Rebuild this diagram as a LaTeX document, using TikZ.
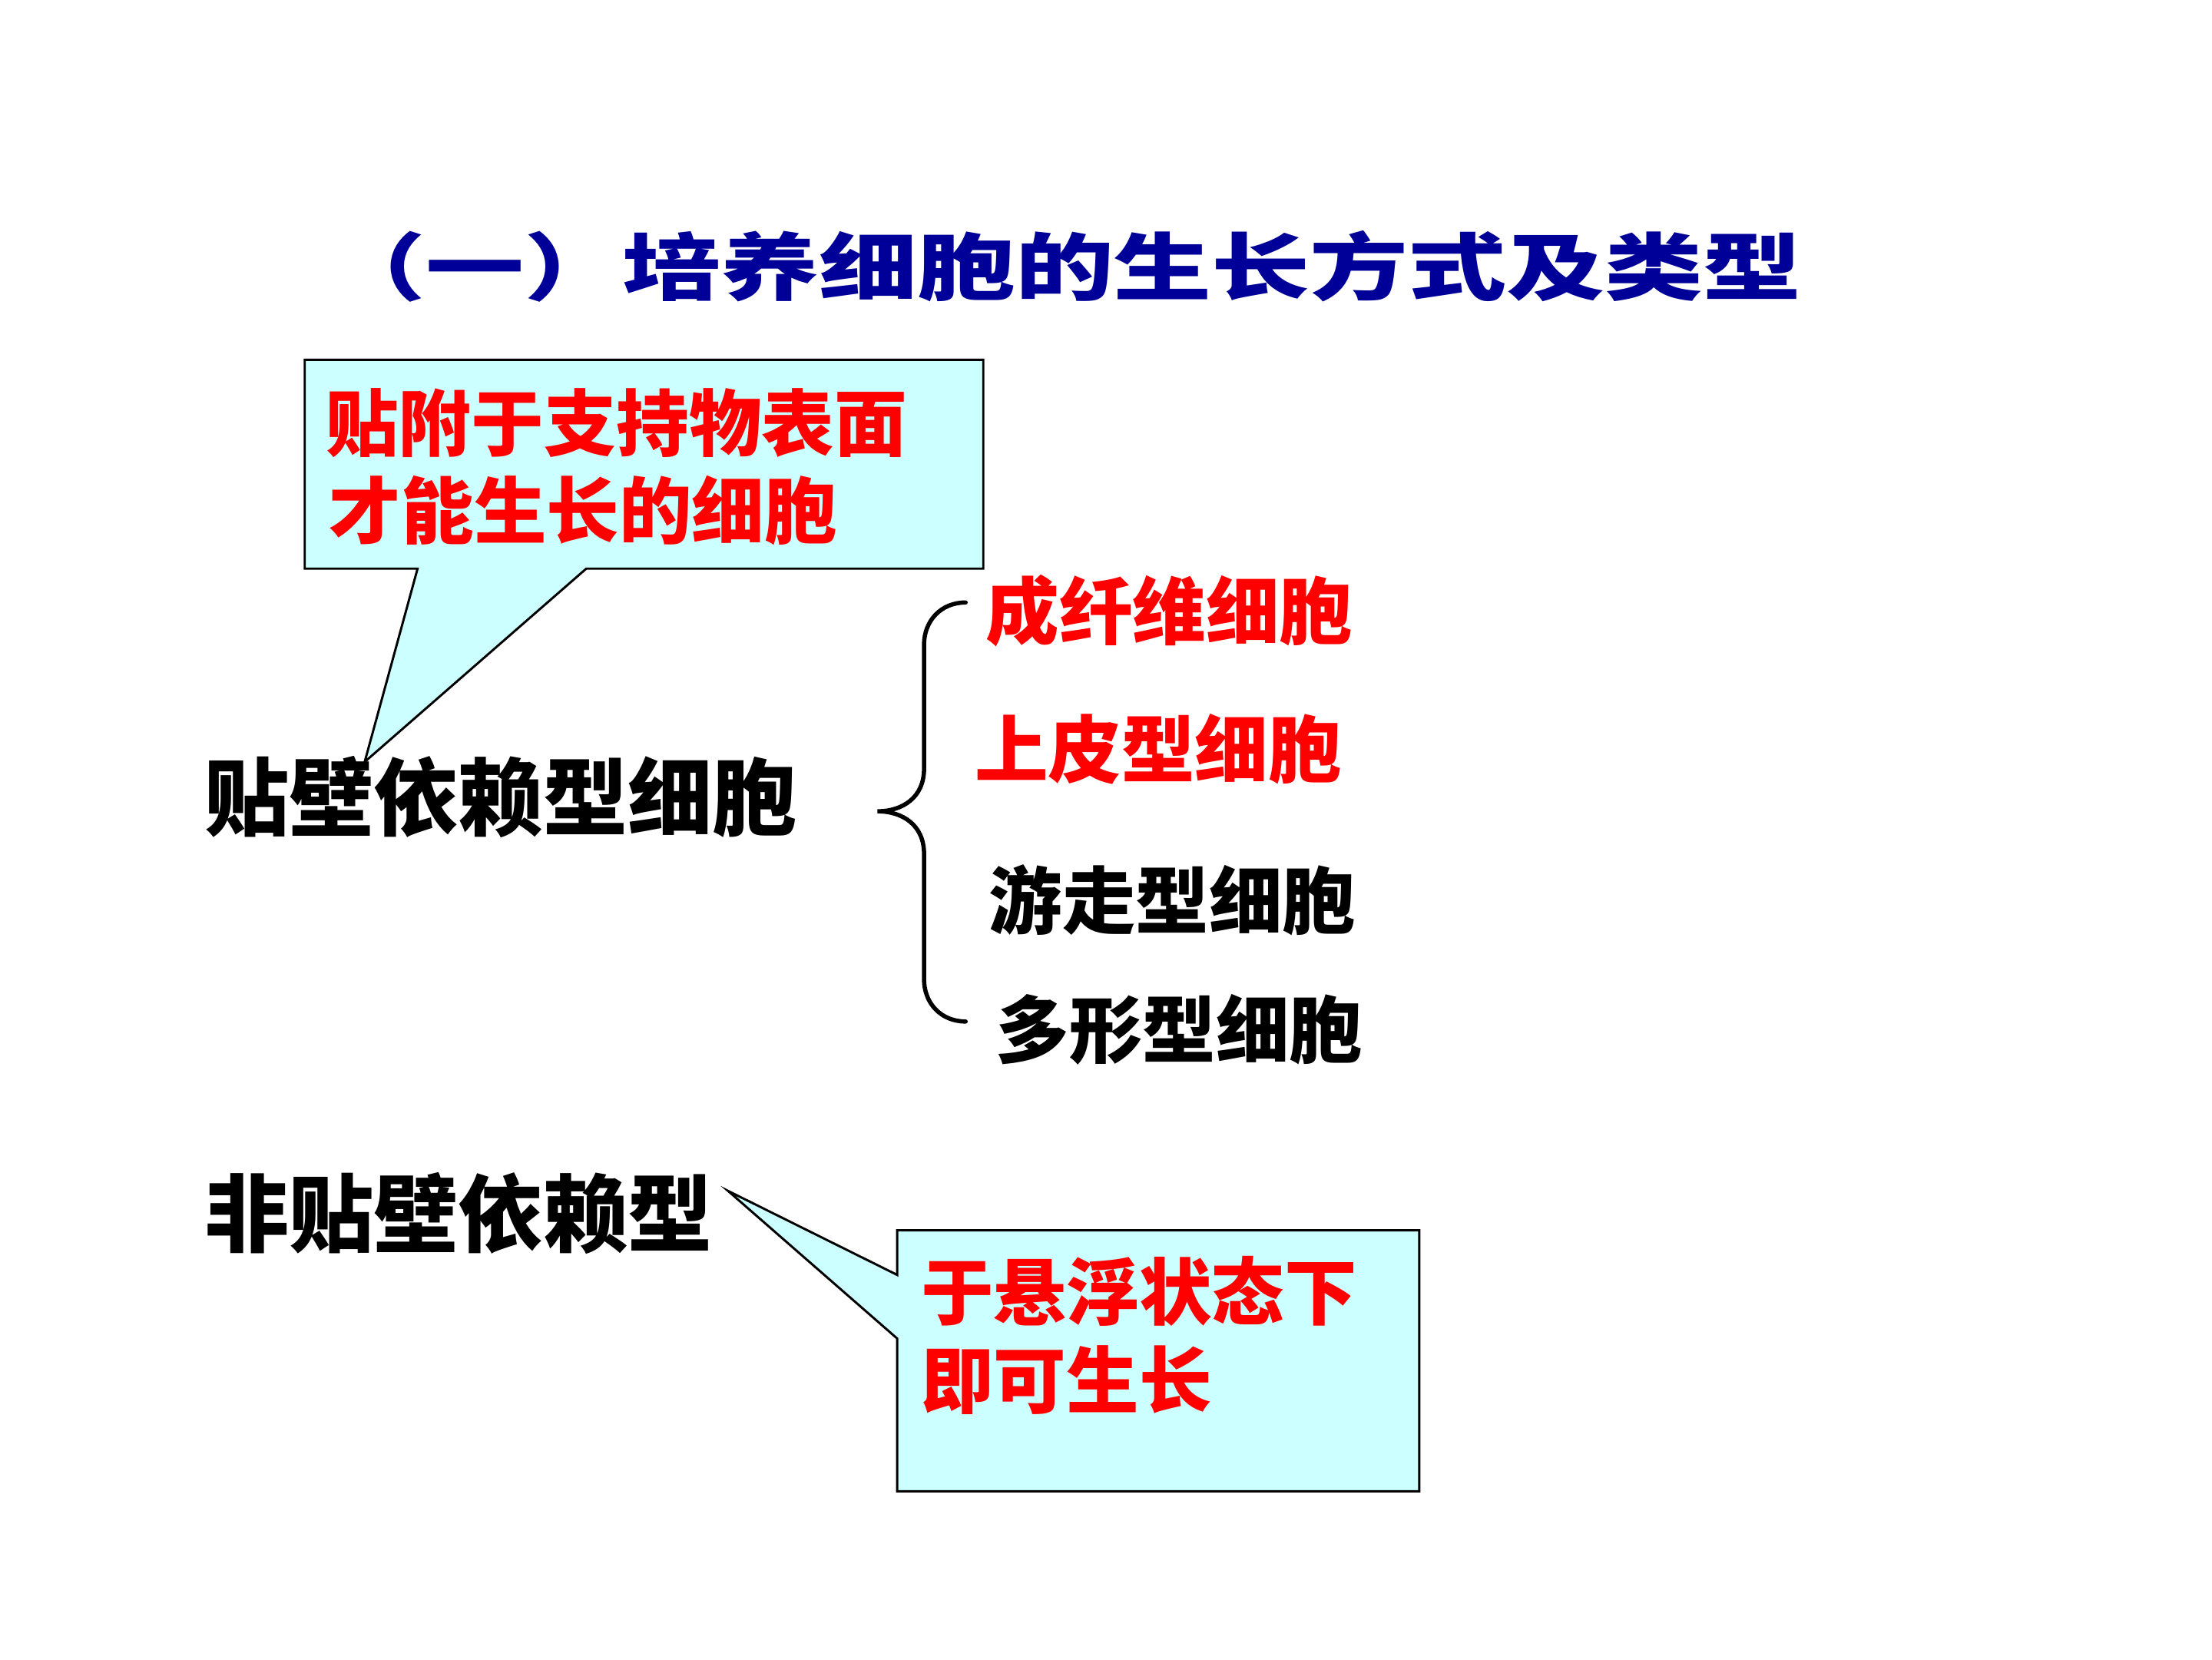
\documentclass[tikz,border=0pt]{standalone}
\usepackage{fontspec}
\newfontfamily\cjk{Noto Sans CJK SC}
\definecolor{titleblue}{RGB}{0,0,153}
\definecolor{callfill}{RGB}{204,255,255}
\definecolor{textred}{RGB}{255,0,0}
\tikzset{
  txt/.style={anchor=west,inner sep=0pt,outer sep=0pt},
  mainlbl/.style={txt,font=\cjk\bfseries\fontsize{60}{70}\selectfont,text=black},
  itemred/.style={txt,font=\cjk\bfseries\fontsize{52}{62}\selectfont,text=textred},
  itemblk/.style={txt,font=\cjk\bfseries\fontsize{52}{62}\selectfont,text=black},
  calltxt/.style={txt,font=\cjk\bfseries\fontsize{51.5}{60}\selectfont,text=textred},
  callout/.style={fill=callfill,draw=black,line width=1.6pt,line join=miter},
  bracestyle/.style={draw=black,line width=3pt,line cap=round},
}
\begin{document}
\begin{tikzpicture}[x=1pt,y=-1pt]
\useasboundingbox (0,0) rectangle (1568,1176);
\fill[white] (0,0) rectangle (1568,1176);

% title
\node[txt,font=\cjk\bfseries\fontsize{52}{60}\selectfont,text=titleblue] (title) at (232,189)
  {\scalebox{1.34}[1]{（一）培养细胞的生长方式及类型}};

% callout 1
\coordinate (tip1) at (258.5,540);
\draw[callout] (216,255) -- (697,255) -- (697,403) -- (415.6,403) -- (tip1) -- (296,403) -- (216,403) -- cycle;
\node[calltxt] (c1a) at (231,300) {贴附于支持物表面};
\node[calltxt] (c1b) at (233,362) {才能生长的细胞};

% callout 2
\coordinate (tip2) at (516,844);
\draw[callout] (636,872) -- (1006,872) -- (1006,1057) -- (636,1057) -- (636,948.7) -- (tip2) -- (636,903.6) -- cycle;
\node[calltxt] (c2a) at (653,915) {于悬浮状态下};
\node[calltxt] (c2b) at (653,978) {即可生长};

% main labels
\node[mainlbl] (adh) at (145,565) {贴壁依赖型细胞};
\node[mainlbl] (nonadh) at (145,860) {非贴壁依赖型};

% brace
\coordinate (btop) at (684.5,427);
\coordinate (bmid) at (622,575);
\coordinate (bbot) at (684.5,724);
\draw[bracestyle] (btop) .. controls (667,427) and (655,440) .. (655,457) -- (655,545)
  .. controls (655,565) and (640,575) .. (bmid)
  .. controls (640,575) and (655,585) .. (655,605) -- (655,694)
  .. controls (655,711) and (667,724) .. (bbot);

% items
\node[itemred] (i1) at (699,433) {成纤维细胞};
\node[itemred] (i2) at (691,531) {上皮型细胞};
\node[itemblk] (i3) at (701,638) {游走型细胞};
\node[itemblk] (i4) at (706,730) {多形型细胞};
\end{tikzpicture}
\end{document}
